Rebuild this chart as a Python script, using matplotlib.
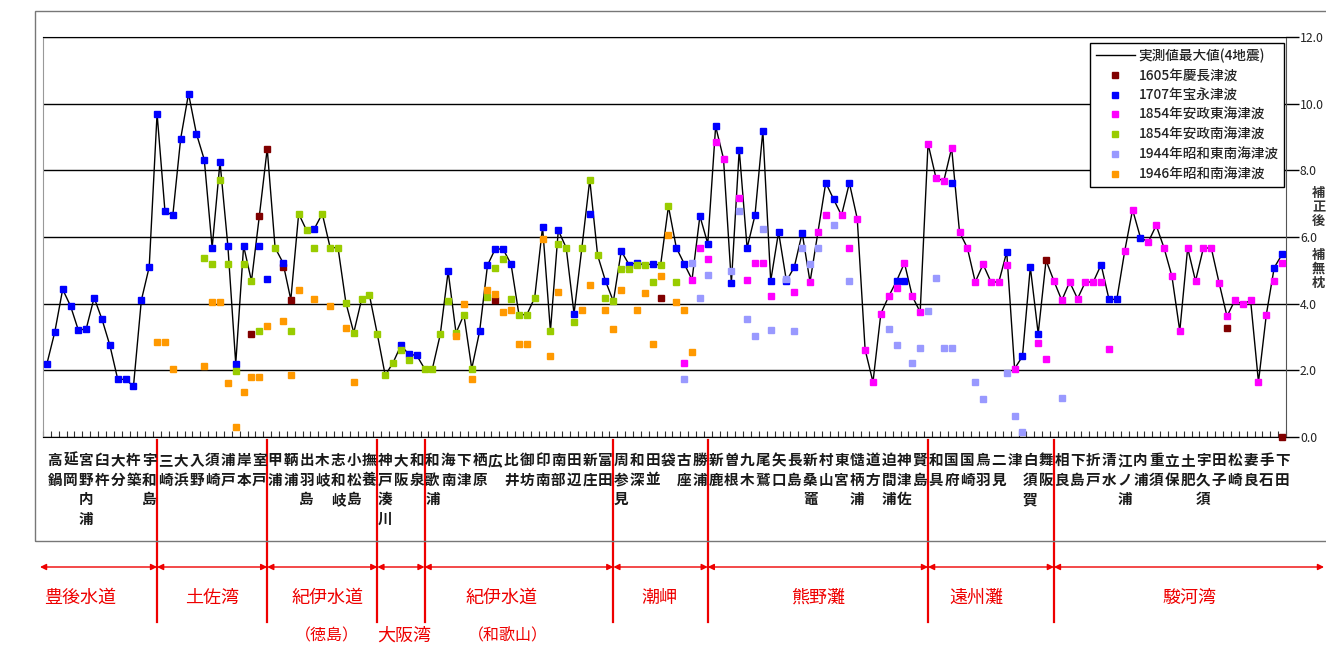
import numpy as np
import matplotlib
matplotlib.use('Agg')
import matplotlib.pyplot as plt
import matplotlib.transforms as mtransforms
from matplotlib.lines import Line2D
from matplotlib.patches import Rectangle

plt.rcParams['font.family'] = ['Noto Sans CJK JP', 'DejaVu Sans']

# 79 observation sites, two data columns per site
places = ['高鍋', '延岡', '宮野内浦', '臼杵', '大分', '杵築', '宇和島',
          '三崎', '大浜', '入野', '須崎', '浦戸', '岸本', '室戸',
          '甲浦', '鞆浦', '出羽島', '木岐', '志和岐', '小松島', '撫養',
          '神戸湊川', '大阪', '和泉',
          '和歌浦', '海南', '下津', '栖原', '広', '比井', '御坊', '印南', '南部', '田辺', '新庄', '富田',
          '周参見', '和深', '田並', '袋', '古座', '勝浦',
          '新鹿', '曽根', '九木', '尾鷲', '矢口', '長島', '新桑竈', '村山', '東宮', '慥柄浦', '道方', '迫間浦', '神津佐', '賢島',
          '和具', '国府', '国崎', '鳥羽', '二見', '津', '白須賀', '舞阪',
          '相良', '下島', '折戸', '清水', '江ノ浦', '内浦', '重須', '立保', '土肥', '宇久須', '田子', '松崎', '妻良', '手石', '下田']
group_sizes = [7, 7, 7, 3, 12, 6, 14, 8, 15]
regions = ['豊後水道', '土佐湾', '紀伊水道', '大阪湾', '紀伊水道', '潮岬', '熊野灘', '遠州灘', '駿河湾']
N = 158

# heights (m) by data column
keicho_1605 = {26: 3.08, 27: 6.63, 28: 8.65, 30: 5.1, 31: 4.12, 57: 4.1, 78: 4.18, 127: 5.3, 150: 3.28, 157: 0.0}
hoei_1707 = {0: 2.2, 1: 3.15, 2: 4.43, 3: 3.93, 4: 3.2, 5: 3.25, 6: 4.18, 7: 3.53, 8: 2.75, 9: 1.73,
             10: 1.73, 11: 1.52, 12: 4.1, 13: 5.1, 14: 9.7, 15: 6.78, 16: 6.65, 17: 8.95, 18: 10.3, 19: 9.1,
             20: 8.32, 21: 5.68, 22: 8.25, 23: 5.73, 24: 2.2, 25: 5.73, 27: 5.73, 28: 4.73, 30: 5.23, 34: 6.25,
             45: 2.75, 46: 2.48, 47: 2.45, 51: 4.97, 55: 3.17, 56: 5.15, 57: 5.65, 58: 5.63, 59: 5.18, 63: 6.3,
             65: 6.2, 67: 3.7, 69: 6.7, 71: 4.68, 73: 5.58, 74: 5.17, 75: 5.23, 77: 5.2, 80: 5.68, 81: 5.2,
             83: 6.63, 84: 5.8, 85: 9.32, 87: 4.62, 88: 8.62, 89: 5.67, 90: 6.65, 91: 9.18, 92: 4.68, 93: 6.15,
             94: 4.68, 95: 5.1, 96: 6.12, 99: 7.63, 100: 7.13, 102: 7.62, 108: 4.68, 109: 4.68, 115: 7.63,
             122: 5.55, 124: 2.42, 125: 5.1, 126: 3.1, 134: 5.17, 135: 4.13, 136: 4.13, 139: 5.98, 156: 5.08, 157: 5.48}
ansei_tokai_1854 = {81: 2.23, 82: 4.72, 83: 5.67, 84: 5.33, 85: 8.85, 86: 8.35, 88: 7.17, 89: 4.72, 90: 5.22,
                    91: 5.22, 92: 4.22, 95: 4.35, 97: 4.65, 98: 6.15, 99: 6.65, 101: 6.65, 102: 5.67, 103: 6.55,
                    104: 2.62, 105: 1.65, 106: 3.7, 107: 4.22, 108: 4.47, 109: 5.22, 110: 4.22, 111: 3.75,
                    112: 8.8, 113: 7.78, 114: 7.68, 115: 8.67, 116: 6.15, 117: 5.67, 118: 4.65, 119: 5.18,
                    120: 4.65, 121: 4.65, 122: 5.15, 123: 2.05, 126: 2.83, 127: 2.33, 128: 4.68, 129: 4.1,
                    130: 4.65, 131: 4.15, 132: 4.65, 133: 4.65, 134: 4.65, 135: 2.63, 137: 5.58, 138: 6.82,
                    140: 5.85, 141: 6.35, 142: 5.67, 143: 4.82, 144: 3.18, 145: 5.67, 146: 4.68, 147: 5.67,
                    148: 5.67, 149: 4.62, 150: 3.62, 151: 4.1, 152: 3.98, 153: 4.1, 154: 1.65, 155: 3.67,
                    156: 4.68, 157: 5.22}
ansei_nankai_1854 = {20: 5.38, 21: 5.2, 22: 7.7, 23: 5.2, 24: 1.98, 25: 5.2, 26: 4.68, 27: 3.18, 29: 5.68,
                     31: 3.18, 32: 6.7, 33: 6.2, 34: 5.68, 35: 6.7, 36: 5.68, 37: 5.68, 38: 4.03, 39: 3.13,
                     40: 4.13, 41: 4.25, 42: 3.08, 43: 1.85, 44: 2.23, 45: 2.6, 46: 2.3, 48: 2.05, 49: 2.05,
                     50: 3.08, 51: 4.07, 52: 3.12, 53: 3.67, 54: 2.05, 56: 4.2, 57: 5.08, 58: 5.33, 59: 4.15,
                     60: 3.67, 61: 3.67, 62: 4.18, 64: 3.18, 65: 5.78, 66: 5.68, 67: 3.45, 68: 5.68, 69: 7.72,
                     70: 5.45, 71: 4.18, 72: 4.07, 73: 5.05, 74: 5.05, 75: 5.15, 76: 5.15, 77: 4.65, 78: 5.15,
                     79: 6.92, 80: 4.65}
showa_tonankai_1944 = {81: 1.73, 82: 5.22, 83: 4.18, 84: 4.87, 87: 4.97, 88: 6.78, 89: 3.53, 90: 3.03,
                       91: 6.25, 92: 3.2, 94: 4.75, 95: 3.17, 96: 5.68, 97: 5.2, 98: 5.68, 100: 6.37,
                       102: 4.68, 107: 3.25, 108: 2.75, 110: 2.23, 111: 2.67, 112: 3.78, 113: 4.77,
                       114: 2.67, 115: 2.67, 118: 1.65, 119: 1.15, 122: 1.93, 123: 0.63, 124: 0.15, 129: 1.17}
showa_nankai_1946 = {14: 2.85, 15: 2.85, 16: 2.05, 20: 2.13, 21: 4.05, 22: 4.05, 23: 1.63, 24: 0.3, 25: 1.35,
                     26: 1.8, 27: 1.8, 28: 3.33, 30: 3.48, 31: 1.85, 32: 4.4, 34: 4.15, 36: 3.93, 38: 3.28,
                     39: 1.65, 52: 3.03, 53: 4.0, 54: 1.75, 56: 4.4, 57: 4.3, 58: 3.75, 59: 3.82, 60: 2.8,
                     61: 2.8, 63: 5.95, 64: 2.42, 65: 4.35, 68: 3.82, 69: 4.57, 71: 3.82, 72: 3.25, 73: 4.4,
                     75: 3.82, 76: 4.33, 77: 2.8, 78: 4.83, 79: 6.05, 80: 4.05, 81: 3.82, 82: 2.55}


def to_array(d):
    a = np.full(N, np.nan)
    for k, v in d.items():
        a[k] = v
    return a


series = [
    ('1605年慶長津波', keicho_1605, '#800000'),
    ('1707年宝永津波', hoei_1707, '#0000FF'),
    ('1854年安政東海津波', ansei_tokai_1854, '#FF00FF'),
    ('1854年安政南海津波', ansei_nankai_1854, '#99CC00'),
    ('1944年昭和東南海津波', showa_tonankai_1944, '#9999FF'),
    ('1946年昭和南海津波', showa_nankai_1946, '#FF9900'),
]

W, H = 1326, 648
fig = plt.figure(figsize=(W / 100, H / 100), dpi=100)
ax = fig.add_axes([43 / W, 1 - 437 / H, 1243 / W, 400 / H])
x = np.arange(N)

# max of the four historical quakes
four = np.vstack([to_array(s[1]) for s in series[:4]])
max_line = np.nanmax(four, axis=0)
ax.plot(x, max_line, color='black', lw=1.0, zorder=3)

for name, d, c in series:
    ax.plot(x, to_array(d), ls='none', marker='s', ms=4.8, color=c, mec=c, zorder=4, clip_on=False)

ax.set_xlim(-0.5, N - 0.5)
ax.set_ylim(0, 12)
ax.set_yticks(np.arange(0, 13, 2))
ax.set_yticklabels([f'{v:.1f}' for v in np.arange(0, 13, 2)])
ax.yaxis.tick_right()
ax.tick_params(axis='y', direction='out', length=9, width=1, color='black', labelsize=8.8,
               labelcolor='#222222', pad=1)
ax.yaxis.grid(True, color='black', lw=1)
ax.set_axisbelow(True)
ax.set_xticks(np.arange(-0.5, N, 1))
ax.tick_params(axis='x', direction='in', length=4, width=0.8, color='#333333', labelbottom=False)
for s in ['top', 'bottom']:
    ax.spines[s].set_color('black')
ax.spines['left'].set_color('#999999')
ax.spines['right'].set_color('#555555')

handles = [Line2D([], [], color='black', lw=1)]
handles += [Line2D([], [], ls='none', marker='s', ms=4.3, color=c) for _, _, c in series]
labels = ['実測値最大値(4地震)'] + [s[0] for s in series]
leg = ax.legend(handles, labels, loc='upper right', bbox_to_anchor=(1 - 2 / 1243, 1 - 6 / 400),
                fontsize=9.8, frameon=True, fancybox=False, edgecolor='black', framealpha=1,
                borderpad=0.4, labelspacing=0.42, handlelength=2.9, handletextpad=0.25, borderaxespad=0)
leg.get_frame().set_linewidth(1)
for t in leg.get_texts():
    t.set_color('#222222')
    t.set_fontweight('medium')

blend = mtransforms.blended_transform_factory(ax.transData, fig.transFigure)

# site labels, stacked vertically
for k, name in enumerate(places):
    ax.text(2 * k + 1.0, 1 - 452 / H, '\n'.join(name), transform=blend, ha='center', va='top',
            fontsize=10.5, fontweight='bold', linespacing=1.27, color='#1a1a1a')

# region separators and arrows
cum = np.cumsum(group_sizes)
bounds = [2 * c for c in cum[:-1]]
for b in bounds:
    ax.plot([b, b], [1 - 440 / H, 1 - 622 / H], transform=blend, color='#EE0000', lw=1.6, clip_on=False)
edges = [(40 - 43) / 7.867 - 0.5] + bounds + [(1324 - 43) / 7.867 - 0.5]
ya = 1 - 567 / H
for a, b in zip(edges[:-1], edges[1:]):
    ax.annotate('', xy=(b, ya), xytext=(a, ya), xycoords=blend, textcoords=blend,
                arrowprops=dict(arrowstyle='<|-|>', color='#EE0000', lw=1.0, mutation_scale=9,
                                shrinkA=0, shrinkB=0))

region_px = [80, 212, 328, 404, 501, 659, 818, 976, 1189]
region_y = [598, 598, 598, 636, 598, 598, 598, 598, 598]
for name, px, py in zip(regions, region_px, region_y):
    fig.text(px / W, 1 - py / H, name, ha='center', va='center', fontsize=13, color='#EE0000')
fig.text(327 / W, 1 - 636 / H, '（徳島）', ha='center', va='center', fontsize=11.5, color='#EE0000')
fig.text(508 / W, 1 - 636 / H, '（和歌山）', ha='center', va='center', fontsize=11.5, color='#EE0000')

# right axis title, cut by the picture edge
fig.text(1312 / W, 1 - 186 / H, '補\n正\n後', ha='left', va='top', fontsize=9.5, fontweight='bold',
         color='#333333', linespacing=1.0)
fig.text(1312 / W, 1 - 248 / H, '補\n無\n枕', ha='left', va='top', fontsize=9.5, fontweight='bold',
         color='#333333', linespacing=1.0)

# chart area frame
fig.add_artist(Rectangle((35 / W, 1 - 541 / H), 1.2, (541 - 11) / H, transform=fig.transFigure,
                         fill=False, edgecolor='#777777', lw=1))

fig.savefig('out.png', dpi=100)
